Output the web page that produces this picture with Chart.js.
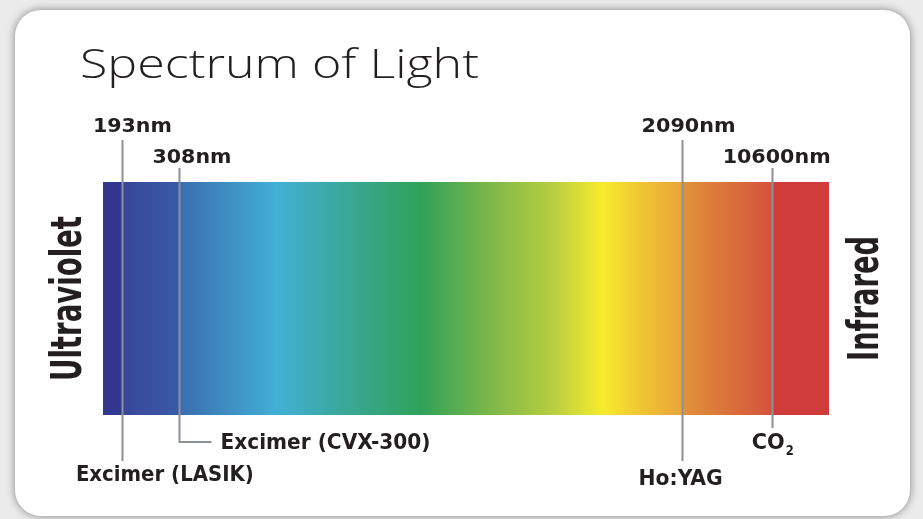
<!DOCTYPE html>
<html>
<head>
<meta charset="utf-8">
<title>Spectrum of Light</title>
<script src="https://cdn.jsdelivr.net/npm/chart.js@4.4.1/dist/chart.umd.min.js"></script>
<style>
  html, body { margin: 0; padding: 0; background: #ebebeb; }
  #wrap { width: 923px; height: 519px; position: relative; }
</style>
</head>
<body>
<div id="wrap"><canvas id="spectrumChart"></canvas></div>
<script>
// Laser markers along the spectrum band (position = % of band width)
const wavelengths = ['193nm', '308nm', '2090nm', '10600nm'];
const laserNames = ['Excimer (LASIK)', 'Excimer (CVX-300)', 'Ho:YAG', 'CO2'];
const markerPositions = [2.6, 10.4, 79.7, 92.1];
const bandEnds = ['Ultraviolet', 'Infrared'];
const bandRange = [0, 100];

// colour stops of the band, as fraction of its width
const colorStops = [
  [0.000, '#33378f'], [0.026, '#33378f'], [0.026, '#37469a'],
  [0.104, '#3a5aa5'], [0.104, '#3a6caf'],
  [0.240, '#42b0d6'], [0.330, '#3aa89a'], [0.437, '#2fa259'],
  [0.530, '#7ab64a'], [0.620, '#b8ce40'], [0.688, '#f7ec2c'],
  [0.740, '#f1c533'], [0.797, '#e8a53a'], [0.797, '#e2923a'],
  [0.921, '#d4523c'], [0.921, '#cf3c3b'], [1.000, '#cf3c3b']
];

const ink = '#231f20';
const leader = '#8c9099';
const boldFont = "'Liberation Sans Narrow', 'DejaVu Sans Condensed', 'Liberation Sans', sans-serif";

// pixel layout for the labels, relative to each marker line
const topLabels = [
  { dx: -29, y: 132, w: 79, lineTop: 140 },
  { dx: -26, y: 163, w: 79, lineTop: 168 },
  { dx: -40, y: 132, w: 94, lineTop: 140 },
  { dx: -49, y: 163, w: 108, lineTop: 168 }
];
const bottomLabels = [
  { dx: -46, y: 481, w: 178, lineBottom: 461 },
  { dx: 42, y: 449, w: 210, lineBottom: 442, elbow: 32 },
  { dx: -43, y: 485, w: 84, lineBottom: 461 },
  { dx: -20, y: 449, w: 33, lineBottom: 428 }
];

function fillFit(ctx, text, x, y, w, font) {
  ctx.font = font;
  const m = ctx.measureText(text).width;
  ctx.save();
  ctx.translate(x, y);
  ctx.scale(w / m, 1);
  ctx.textAlign = 'left';
  ctx.textBaseline = 'alphabetic';
  ctx.fillText(text, 0, 0);
  ctx.restore();
}

function roundRect(ctx, x, y, w, h, r) {
  ctx.beginPath();
  ctx.moveTo(x + r, y);
  ctx.arcTo(x + w, y, x + w, y + h, r);
  ctx.arcTo(x + w, y + h, x, y + h, r);
  ctx.arcTo(x, y + h, x, y, r);
  ctx.arcTo(x, y, x + w, y, r);
  ctx.closePath();
}

const cardPlugin = {
  id: 'card',
  beforeDraw(chart) {
    const ctx = chart.ctx;
    ctx.save();
    ctx.fillStyle = '#ebebeb';
    ctx.fillRect(0, 0, chart.width, chart.height);
    ctx.shadowColor = 'rgba(0,0,0,0.45)';
    ctx.shadowBlur = 8;
    roundRect(ctx, 15, 10, 895, 506, 26);
    ctx.fillStyle = '#ffffff';
    ctx.fill();
    ctx.restore();
  }
};

const markerPlugin = {
  id: 'markers',
  afterDatasetsDraw(chart) {
    const ctx = chart.ctx;
    const x = chart.scales.x;
    ctx.save();
    ctx.strokeStyle = leader;
    ctx.lineWidth = 2;
    markerPositions.forEach((pos, i) => {
      const px = Math.round(x.getPixelForValue(pos)) + 0.5;
      const t = topLabels[i], b = bottomLabels[i];
      ctx.beginPath();
      ctx.moveTo(px, t.lineTop);
      ctx.lineTo(px, b.lineBottom);
      if (b.elbow) ctx.lineTo(px + b.elbow, b.lineBottom);
      ctx.stroke();
    });
    ctx.restore();
  },
  afterDraw(chart) {
    const ctx = chart.ctx;
    const x = chart.scales.x;
    const area = chart.chartArea;
    ctx.save();
    ctx.fillStyle = ink;

    // title
    fillFit(ctx, 'Spectrum of Light', 80, 78, 399, "300 40px 'Open Sans', 'Noto Sans', sans-serif");

    markerPositions.forEach((pos, i) => {
      const px = x.getPixelForValue(pos);
      const t = topLabels[i], b = bottomLabels[i];
      fillFit(ctx, wavelengths[i], px + t.dx, t.y, t.w, 'bold 20px ' + boldFont);
      const name = laserNames[i];
      if (name === 'CO2') {
        fillFit(ctx, 'CO', px + b.dx, b.y, b.w, 'bold 21px ' + boldFont);
        fillFit(ctx, '2', px + b.dx + b.w + 1, b.y + 6, 8, 'bold 14px ' + boldFont);
      } else {
        fillFit(ctx, name, px + b.dx, b.y, b.w, 'bold 21px ' + boldFont);
      }
    });

    // rotated band ends
    const midY = (area.top + area.bottom) / 2;
    const ends = [
      { text: bandEnds[0], x: 81, w: 165 },
      { text: bandEnds[1], x: 878, w: 125 }
    ];
    ends.forEach(e => {
      ctx.save();
      ctx.translate(e.x, midY + e.w / 2);
      ctx.rotate(-Math.PI / 2);
      fillFit(ctx, e.text, 0, 0, e.w, 'bold 42px ' + boldFont);
      ctx.restore();
    });
    ctx.restore();
  }
};

const ctx = document.getElementById('spectrumChart').getContext('2d');
const spectrumChart = new Chart(ctx, {
  type: 'line',
  data: {
    datasets: [{
      label: 'Spectrum',
      data: bandRange.map(v => ({ x: v, y: 1 })),
      fill: 'origin',
      borderWidth: 0,
      pointRadius: 0,
      tension: 0,
      backgroundColor: (c) => {
        const chart = c.chart;
        if (!chart.chartArea) return 'transparent';
        const sx = chart.scales.x;
        const g = chart.ctx.createLinearGradient(
          sx.getPixelForValue(bandRange[0]), 0, sx.getPixelForValue(bandRange[1]), 0);
        colorStops.forEach(s => g.addColorStop(s[0], s[1]));
        return g;
      }
    }]
  },
  options: {
    responsive: true,
    maintainAspectRatio: false,
    animation: false,
    layout: { padding: { left: 103, right: 94, top: 182, bottom: 104 } },
    scales: {
      x: { type: 'linear', min: bandRange[0], max: bandRange[1], display: false },
      y: { type: 'linear', min: 0, max: 1, display: false }
    },
    plugins: {
      legend: { display: false },
      tooltip: { enabled: false }
    }
  },
  plugins: [cardPlugin, markerPlugin]
});
</script>
</body>
</html>
